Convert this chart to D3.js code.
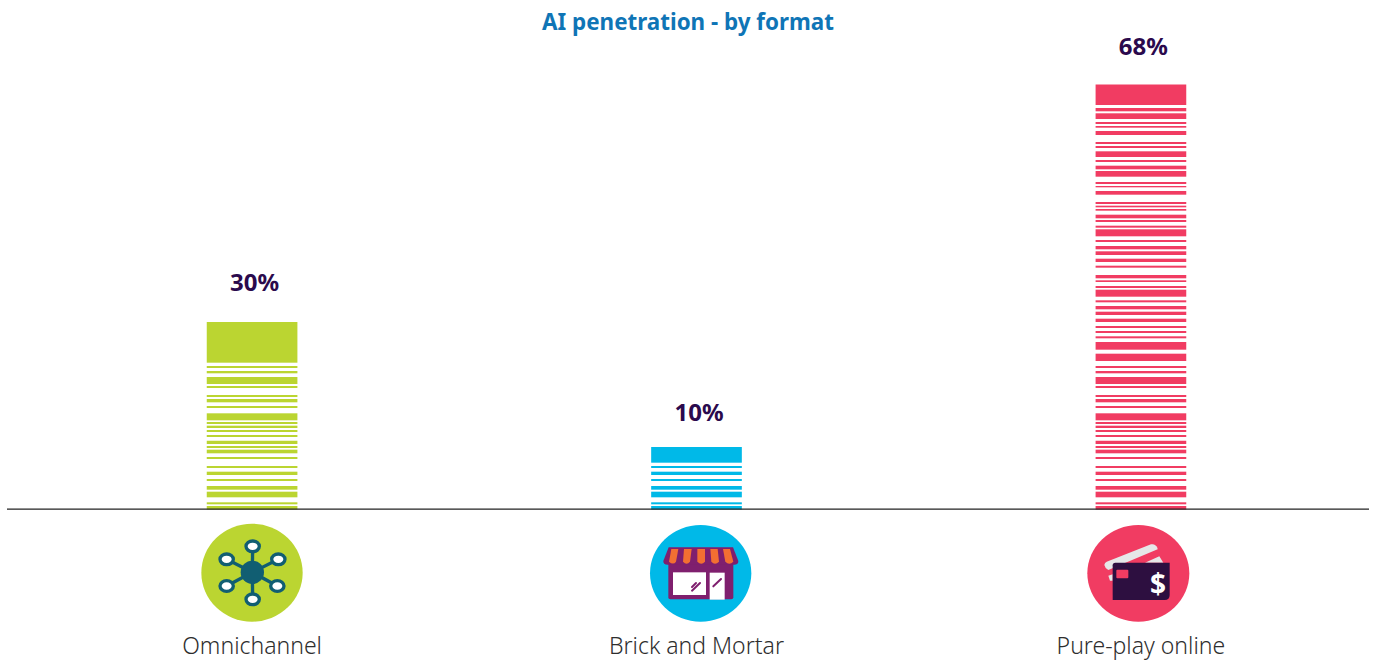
<!DOCTYPE html>
<html>
<head>
<meta charset="utf-8">
<script src="https://cdnjs.cloudflare.com/ajax/libs/d3/7.8.5/d3.min.js"></script>
<style>
html,body{margin:0;padding:0;background:#fff;overflow:hidden}
svg{display:block}
text{font-family:"Noto Sans","Open Sans",sans-serif}
</style>
</head>
<body>
<svg id="chart" width="1375" height="660"></svg>
<script>
const chartTitle = "AI penetration - by format";
const categories = ["Omnichannel", "Brick and Mortar", "Pure-play online"];
const values = [30, 10, 68];
const valueLabels = ["30%", "10%", "68%"];
const barColors = ["#bbd531", "#00b9e8", "#f13c62"];
// value at which each bar's solid cap starts
const capStarts = [23.49, 7.49, 64.72];
// barcode stripes, [from, to] on the value axis
const stripeBands = [
  [0,.56],[.83,1.15],[1.95,2.85],[3.17,3.76],[4.56,4.88],[5.52,6.05],[6.64,6.96],[8.08,8.4],
  [8.99,9.57],[9.84,10.16],[10.48,11],[11.6,11.92],[12.4,12.72],[13.04,13.41],[13.68,14],
  [14.27,15.39],[16.24,16.56],[17.15,17.68],[18,18.32],[19.44,19.76],[20.08,21.2],[21.79,22.16],
  [22.64,22.96],[23.76,24.93],[25.57,26.8],[27.39,27.71],[28.24,28.56],[29.04,29.36],[30,30.53],
  [31.12,31.65],[32.03,32.56],[33.15,33.47],[34.05,35.17],[35.44,35.76],[36.4,36.67],[36.99,37.52],
  [38.69,39.01],[39.6,40.13],[40.72,41.31],[41.63,42.16],[42.8,43.12],[43.71,44.83],[45.09,45.41],
  [46,46.32],[46.59,47.17],[47.81,48.08],[48.35,48.61],[48.88,49.2],[50.37,50.96],[51.55,51.76],
  [52.08,52.4],[53.25,54.16],[54.43,55.01],[55.6,55.92],[56.4,57.31],[57.84,58.16],[58.48,58.8],
  [59.92,60.56],[61.09,61.36],[61.68,62],[62.48,63.39],[63.71,64.24]
];

const svg = d3.select("#chart");
const x = d3.scaleBand().domain(categories).range([206.75, 1186.25]).paddingInner(0.796).paddingOuter(0);
const y = d3.scaleLinear().domain([0, 68]).range([509.5, 84.5]);
const cx = c => x(c) + x.bandwidth() / 2;

svg.append("text").attr("x", 688).attr("y", 30).attr("text-anchor", "middle")
  .attr("font-size", 22.4).attr("font-weight", 700).attr("fill", "#0f75b6").text(chartTitle);

const labelGaps = [31, 26, 30];
categories.forEach((c, i) => {
  const g = svg.append("g").attr("class", "bar");
  g.append("rect").attr("x", x(c)).attr("width", x.bandwidth())
    .attr("y", y(values[i])).attr("height", y(capStarts[i]) - y(values[i])).attr("fill", barColors[i]);
  g.selectAll("rect.stripe").data(stripeBands.filter(b => b[1] < capStarts[i])).join("rect")
    .attr("class", "stripe").attr("x", x(c)).attr("width", x.bandwidth())
    .attr("y", b => y(b[1])).attr("height", b => y(b[0]) - y(b[1])).attr("fill", barColors[i]);
  svg.append("text").attr("x", cx(c) + 2.5).attr("y", y(values[i]) - labelGaps[i]).attr("text-anchor", "middle")
    .attr("font-size", 24).attr("font-weight", 700).attr("fill", "#2b0a4d").text(valueLabels[i]);
  svg.append("text").attr("x", cx(c)).attr("y", 654).attr("text-anchor", "middle")
    .attr("font-size", 23).attr("font-weight", 300).attr("fill", "#2e2e2e").text(c);
});

svg.append("line").attr("x1", 7).attr("x2", 1369).attr("y1", y(0)-0.3).attr("y2", y(0)-0.3)
  .attr("stroke", "#222").attr("stroke-width", 1.3);

// --- icons: drawn in a 3x local space
const icon = (ox, oy) => svg.append("g").attr("transform", `translate(${ox},${oy}) scale(${1/3})`);

// Omnichannel
const a = icon(170, 515), teal = "#115e72";
a.append("ellipse").attr("cx", 246).attr("cy", 173).attr("rx", 152).attr("ry", 147).attr("fill", barColors[0]);
const sats = [[248,94],[170,133],[325,133],[170,213],[322,213],[248,253]];
sats.forEach(s => a.append("line").attr("x1", 247).attr("y1", 172).attr("x2", s[0]).attr("y2", s[1]).attr("stroke", teal).attr("stroke-width", 10));
a.append("circle").attr("cx", 247).attr("cy", 172).attr("r", 35).attr("fill", teal);
sats.forEach(s => a.append("ellipse").attr("cx", s[0]).attr("cy", s[1]).attr("rx", 20).attr("ry", 16).attr("fill", "#fff").attr("stroke", teal).attr("stroke-width", 10));

// Brick and Mortar
const b = icon(610, 515), pur = "#7f1f6e", org = "#f36f32";
b.append("ellipse").attr("cx", 272).attr("cy", 175).attr("rx", 152).attr("ry", 145).attr("fill", barColors[1]);
b.append("rect").attr("x", 175).attr("y", 135).attr("width", 195).attr("height", 118).attr("rx", 6).attr("fill", pur);
b.append("path").attr("fill", pur).attr("d", "M176 97H369L385 138Q386 149 372 149H173Q159 149 160 138Z");
[["M184 102H205L198 140Q190 151 177 140Z"],["M222 102H245L240 140Q230 152 219 140Z"],["M262 102H285L285 140Q274 152 262 140Z"],["M301 102H323L327 140Q315 152 304 140Z"],["M339 102H360L370 140Q358 152 346 140Z"]]
  .forEach(d => b.append("path").attr("d", d[0]).attr("fill", org));
b.append("rect").attr("x", 189).attr("y", 172).attr("width", 99).attr("height", 68).attr("fill", "#fff");
b.append("rect").attr("x", 299).attr("y", 173).attr("width", 45).attr("height", 81).attr("fill", "#fff");
[[246,227,270,204],[246,216,258,204],[310,214,333,192]].forEach(l => b.append("line")
  .attr("x1", l[0]).attr("y1", l[1]).attr("x2", l[2]).attr("y2", l[3]).attr("stroke", pur).attr("stroke-width", 6).attr("stroke-linecap", "round"));

// Pure-play online
const p = icon(1050, 515), ink = "#2d0f40";
p.append("ellipse").attr("cx", 265).attr("cy", 175).attr("rx", 153).attr("ry", 145).attr("fill", barColors[2]);
p.append("path").attr("fill", "#e6e7e8").attr("d", "M170 140L303 88Q316 85 322 98L323 103L175 165Q165 160 163 150Q164 143 170 140Z");
p.append("path").attr("fill", "#e6e7e8").attr("d", "M285 143L328 124L340 143ZM175 182L188 178V197H180Z");
p.append("path").attr("fill", ink).attr("d", "M196 143H359V240Q359 255 344 255H188V151Q188 143 196 143Z");
p.append("rect").attr("x", 199).attr("y", 164).attr("width", 36).attr("height", 26).attr("rx", 3).attr("fill", barColors[2]);
p.append("text").attr("x", 324).attr("y", 236).attr("text-anchor", "middle").attr("font-size", 84).attr("font-weight", 700).attr("fill", "#fff").text("$");
</script>
</body>
</html>
